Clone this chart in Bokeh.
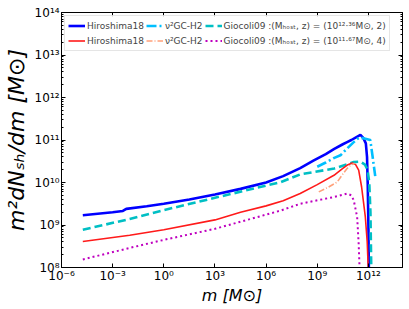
import numpy as np
from bokeh.plotting import figure
from bokeh.models import (LogAxis, FixedTicker, CustomJSTickFormatter, Legend,
                          LegendItem, Range1d)
from bokeh.embed import file_html
from bokeh.resources import INLINE

# ---- data (log10 values) ----
hiro1_logm = [-4.75, -3.0, -2.4, -2.2, -1.0, 0.0, 1.5, 3.0, 4.5, 6.0, 7.0, 8.0, 8.8, 9.5,
              10.0, 10.5, 10.75, 11.0, 11.3, 11.53, 11.7, 11.85, 11.92, 11.96, 12.0, 12.03]
hiro1_logy = [9.23, 9.30, 9.33, 9.38, 9.44, 9.50, 9.60, 9.72, 9.85, 10.0, 10.15, 10.34, 10.52, 10.67,
              10.79, 10.90, 10.95, 11.0, 11.07, 11.12, 11.05, 10.92, 10.6, 9.97, 9.0, 7.9]

nu1_logm = [9.0, 9.5, 10.0, 10.36, 10.75, 11.14, 11.43, 11.6, 11.82, 12.11, 12.25, 12.4]
nu1_logy = [10.37, 10.47, 10.58, 10.64, 10.80, 10.95, 11.05, 11.05, 11.03, 11.0, 10.6, 10.15]

gio1_logm = [-4.75, -2.0, 0.0, 3.0, 6.86, 8.0, 10.0, 11.14, 11.53, 11.8, 11.95, 12.05, 12.12, 12.17]
gio1_logy = [8.89, 9.14, 9.35, 9.64, 10.01, 10.19, 10.33, 10.48, 10.49, 10.42, 10.30, 10.0, 9.3, 7.9]

hiro2_logm = [-4.75, -2.0, 0.0, 3.0, 4.5, 6.0, 7.0, 8.0, 9.0, 9.98, 10.5, 10.8, 11.05, 11.25,
              11.43, 11.6, 11.82, 11.93, 12.0]
hiro2_logy = [8.61, 8.76, 8.89, 9.12, 9.30, 9.45, 9.57, 9.74, 9.95, 10.17, 10.33, 10.42, 10.46, 10.42,
              10.29, 9.9, 9.19, 8.6, 7.9]

nu2_logm = [9.09, 9.6, 10.17, 10.5, 10.75, 11.0, 11.2]
nu2_logy = [9.78, 9.88, 10.01, 10.2, 10.33, 10.42, 10.45]

gio2_logm = [-4.75, -2.0, 0.0, 3.0, 6.86, 8.0, 10.0, 10.75, 11.0, 11.14, 11.34, 11.43, 11.49]
gio2_logy = [8.19, 8.46, 8.65, 8.91, 9.34, 9.50, 9.66, 9.74, 9.70, 9.58, 9.19, 8.56, 7.9]

x_tick_exp = [-6, -3, 0, 3, 6, 9, 12]
y_tick_exp = [8, 9, 10, 11, 12, 13, 14]

lab_hiro = "Hiroshima18"
lab_nu = "\u03bd\u00b2GC-H2"
lab_gio1 = "Giocoli09 :(M\u2095\u2092\u209b\u209c, z) = (10\u00b9\u00b2\u00b7\u00b3\u2076M\u2299, 2)"
lab_gio2 = "Giocoli09 :(M\u2095\u2092\u209b\u209c, z) = (10\u00b9\u00b9\u00b7\u2076\u2077M\u2299, 4)"
x_title = "m [M\u2299]"
y_title = "m\u00b2dN\u209b\u2095/dm [M\u2299]"


def tv(a):
    return [10.0 ** v for v in a]


p = figure(width=409, height=309, x_axis_type="log", y_axis_type="log",
           x_range=Range1d(1e-6, 1e14), y_range=Range1d(1e8, 1e14),
           output_backend="svg", toolbar_location=None,
           min_border_left=60, min_border_right=7, min_border_top=12, min_border_bottom=42)
p.xgrid.visible = False
p.ygrid.visible = False
p.outline_line_color = "black"
p.outline_line_width = 1

fmt_code = """
const sup = {'-':'\u207b','0':'\u2070','1':'\u00b9','2':'\u00b2','3':'\u00b3','4':'\u2074',
             '5':'\u2075','6':'\u2076','7':'\u2077','8':'\u2078','9':'\u2079'};
const e = Math.round(Math.log10(tick));
return '10' + String(e).split('').map(c => sup[c]).join('');
"""
xt = [10.0 ** e for e in x_tick_exp]
yt = [10.0 ** e for e in y_tick_exp]
ymin = [k * 10.0 ** e for e in y_tick_exp[:-1] for k in range(2, 10)]

for ax in p.xaxis:
    ax.ticker = FixedTicker(ticks=xt, minor_ticks=[])
for ax in p.yaxis:
    ax.ticker = FixedTicker(ticks=yt, minor_ticks=ymin)

for ax in list(p.xaxis) + list(p.yaxis):
    ax.formatter = CustomJSTickFormatter(code=fmt_code)
    ax.major_tick_in = 4
    ax.major_tick_out = 0
    ax.minor_tick_in = 2
    ax.minor_tick_out = 0
    ax.major_label_text_font = "DejaVu Sans"
    ax.major_label_text_font_size = "12px"
    ax.major_label_text_color = "black"
    ax.axis_line_color = "black"
    ax.axis_label_text_font = "DejaVu Sans"
    ax.axis_label_text_font_style = "italic"
    ax.axis_label_text_color = "black"

p.xaxis.axis_label = x_title
p.xaxis.axis_label_text_font_size = "16px"
p.xaxis.major_label_standoff = 1
p.xaxis.axis_label_standoff = 0
p.yaxis.axis_label = y_title
p.yaxis.axis_label_text_font_size = "22px"
p.yaxis.major_label_standoff = 2
p.yaxis.axis_label_standoff = 3

blank = CustomJSTickFormatter(code="return '';")
top = LogAxis(ticker=FixedTicker(ticks=xt, minor_ticks=[]), formatter=blank,
              major_tick_in=4, major_tick_out=0, minor_tick_in=0, minor_tick_out=0,
              major_label_standoff=0, major_label_text_font_size="0px",
              axis_label_standoff=0, axis_line_color="black")
right = LogAxis(ticker=FixedTicker(ticks=yt, minor_ticks=ymin), formatter=blank,
                major_tick_in=4, major_tick_out=0, minor_tick_in=2, minor_tick_out=0,
                major_label_standoff=0, major_label_text_font_size="0px",
                axis_label_standoff=0, axis_line_color="black")
p.add_layout(top, "above")
p.add_layout(right, "right")

r1 = p.line(tv(hiro1_logm), tv(hiro1_logy), line_color="#0000ff", line_width=2.6)
r2 = p.line(tv(nu1_logm), tv(nu1_logy), line_color="#00bfff", line_width=2.6, line_dash="10 3 2 3")
r3 = p.line(tv(gio1_logm), tv(gio1_logy), line_color="#00bfc4", line_width=2.6, line_dash="8 4")
r4 = p.line(tv(hiro2_logm), tv(hiro2_logy), line_color="#ff1a1a", line_width=1.6)
r5 = p.line(tv(nu2_logm), tv(nu2_logy), line_color="#ffa07a", line_width=1.6, line_dash="6 2 1 2")
r6 = p.line(tv(gio2_logm), tv(gio2_logy), line_color="#bf00bf", line_width=2.0, line_dash="2 3")

legend = Legend(items=[LegendItem(label=lab_hiro, renderers=[r1]),
                       LegendItem(label=lab_nu, renderers=[r2]),
                       LegendItem(label=lab_gio1, renderers=[r3]),
                       LegendItem(label=lab_hiro, renderers=[r4]),
                       LegendItem(label=lab_nu, renderers=[r5]),
                       LegendItem(label=lab_gio2, renderers=[r6])],
                location="top_left", orientation="horizontal", ncols=3,
                label_text_font="DejaVu Sans", label_text_font_size="9px",
                glyph_width=17, glyph_height=13, label_height=13, label_standoff=2,
                label_width=10, spacing=2, padding=3, margin=3,
                border_line_color="#cccccc", border_line_width=1,
                background_fill_alpha=0.8)
p.add_layout(legend, "center")

open("out.html", "w").write(file_html(p, INLINE))
